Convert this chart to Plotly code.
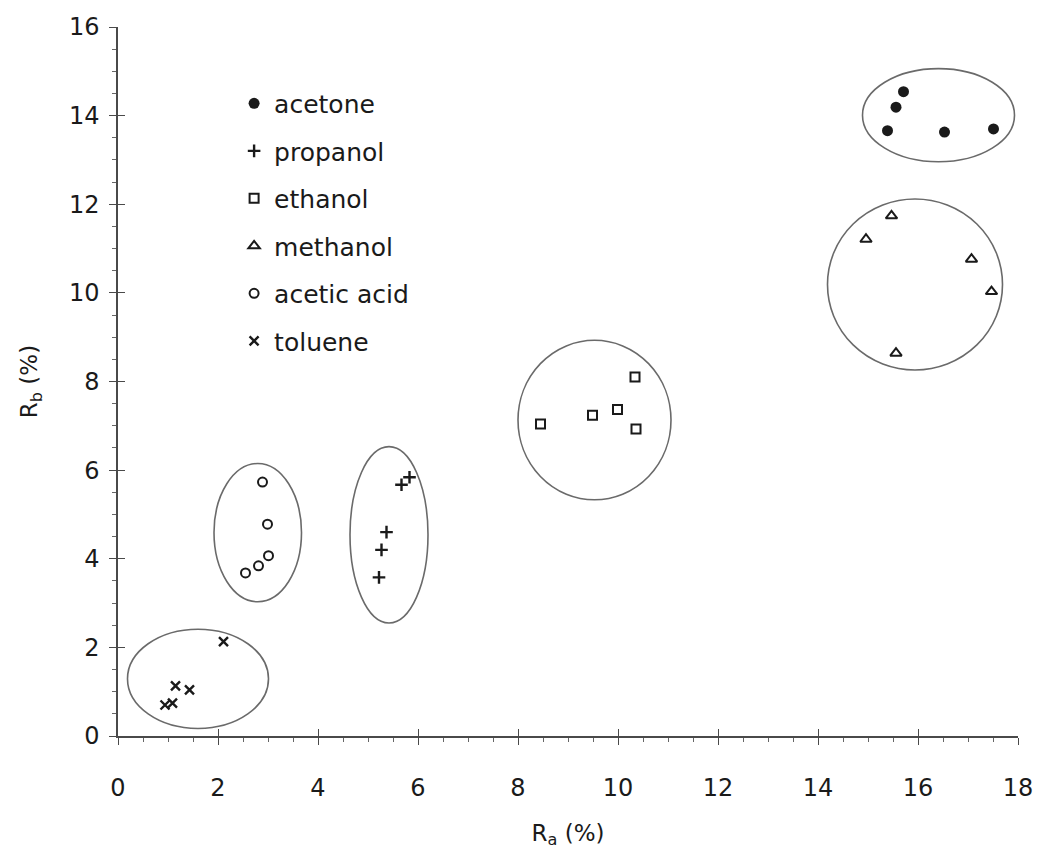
import plotly.graph_objects as go

# ---- data ----
acetone_x = [15.71, 15.56, 15.39, 16.53, 17.51]
acetone_y = [14.54, 14.19, 13.66, 13.63, 13.70]

propanol_x = [5.67, 5.83, 5.37, 5.27, 5.22]
propanol_y = [5.67, 5.84, 4.60, 4.20, 3.58]

ethanol_x = [8.45, 9.49, 9.99, 10.34, 10.36]
ethanol_y = [7.04, 7.24, 7.37, 8.10, 6.93]

methanol_x = [15.47, 14.96, 17.07, 17.47, 15.56]
methanol_y = [11.74, 11.21, 10.76, 10.03, 8.64]

acetic_x = [2.89, 2.99, 3.01, 2.81, 2.55]
acetic_y = [5.73, 4.78, 4.07, 3.84, 3.68]

toluene_x = [2.11, 1.15, 1.43, 0.94, 1.09]
toluene_y = [2.13, 1.13, 1.04, 0.70, 0.74]

# cluster ellipses: (x0, x1, y0, y1) in data units
cluster_boxes = [
    (14.89, 17.93, 12.96, 15.06),  # acetone
    (14.19, 17.69, 8.26, 12.12),   # methanol
    (8.00, 11.06, 5.33, 8.93),     # ethanol
    (4.64, 6.20, 2.55, 6.53),      # propanol
    (1.92, 3.67, 3.03, 6.15),      # acetic acid
    (0.19, 3.01, 0.17, 2.41),      # toluene
]

x_ticks = list(range(0, 19, 2))
y_ticks = list(range(0, 17, 2))

FONT = "DejaVu Sans"
INK = "#1a1a1a"
AXC = "#4a4a4a"

fig = go.Figure()

series = [
    ("acetone", acetone_x, acetone_y, dict(symbol="circle", size=11, color=INK)),
    ("propanol", propanol_x, propanol_y, dict(symbol="cross-thin", size=9, line=dict(color=INK, width=2.4))),
    ("ethanol", ethanol_x, ethanol_y, dict(symbol="square-open", size=9, color=INK, line=dict(width=2))),
    ("methanol", methanol_x, methanol_y, dict(symbol="triangle-up-open", size=10, color=INK, line=dict(width=2))),
    ("acetic acid", acetic_x, acetic_y, dict(symbol="circle-open", size=9, color=INK, line=dict(width=2))),
    ("toluene", toluene_x, toluene_y, dict(symbol="x-thin", size=9, line=dict(color=INK, width=2.4))),
]
for i, (name, xs, ys, mk) in enumerate(series):
    fig.add_trace(go.Scatter(x=xs, y=ys, mode="markers", name=name, marker=mk,
                             legendgroup=f"g{i}", cliponaxis=False))

for (x0, x1, y0, y1) in cluster_boxes:
    fig.add_shape(type="circle", xref="x", yref="y", x0=x0, x1=x1, y0=y0, y1=y1,
                  line=dict(color="#6a6a6a", width=1.6), layer="below")

axis_common = dict(showgrid=False, zeroline=False, showline=True, linecolor=AXC,
                   linewidth=1.5, ticks="outside", ticklen=7, tickwidth=1.3, tickcolor=AXC,
                   tickfont=dict(family=FONT, size=24, color=INK), automargin=False,
                   minor=dict(ticks="outside", ticklen=4, tickwidth=1, tickcolor="#666666", dtick=0.5))

fig.update_layout(
    width=1037, height=854,
    margin=dict(l=118, r=19, t=27, b=118, autoexpand=False),
    paper_bgcolor="white", plot_bgcolor="white",
    font=dict(family=FONT, color=INK),
    xaxis=dict(range=[0, 18], tickvals=x_ticks, ticklabelstandoff=22,
               title=dict(text="R<sub>a</sub> (%)", font=dict(size=23, family=FONT, color=INK), standoff=24),
               **axis_common),
    yaxis=dict(range=[0, 16], tickvals=y_ticks, ticklabelstandoff=5,
               title=dict(text="R<sub>b</sub> (%)", font=dict(size=23, family=FONT, color=INK), standoff=25),
               **axis_common),
    xaxis2=dict(overlaying="x", matches="x", range=[0, 18], tickvals=x_ticks, showticklabels=False,
                ticks="inside", ticklen=7, tickwidth=1.3, tickcolor=AXC, showgrid=False,
                zeroline=False, showline=False, side="bottom", automargin=False),
    yaxis2=dict(overlaying="y", matches="y", range=[0, 16], tickvals=y_ticks, showticklabels=False,
                ticks="inside", ticklen=7, tickwidth=1.3, tickcolor=AXC, showgrid=False,
                zeroline=False, showline=False, side="left", automargin=False),
    legend=dict(x=0.129, y=0.9244, xanchor="left", yanchor="top", bgcolor="rgba(0,0,0,0)",
                font=dict(family=FONT, size=25, color=INK), tracegroupgap=12,
                itemsizing="trace"),
)
# invisible trace to activate the overlay axes
fig.add_trace(go.Scatter(x=[None], y=[None], xaxis="x2", yaxis="y2", showlegend=False, hoverinfo="skip"))

fig.write_html("out.html")
